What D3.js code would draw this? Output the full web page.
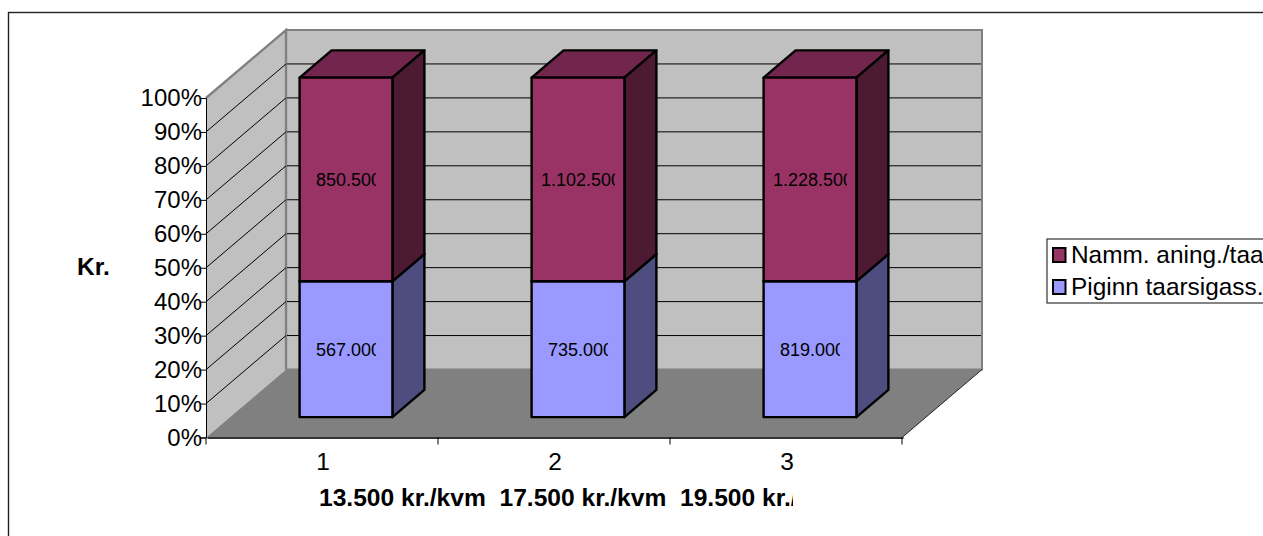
<!DOCTYPE html>
<html>
<head>
<meta charset="utf-8">
<script src="https://cdn.jsdelivr.net/npm/d3@7"></script>
<style>
  html, body { margin: 0; padding: 0; background: #fff; overflow: hidden; }
  text { font-family: "Liberation Sans", Arial, sans-serif; fill: #000; white-space: pre; }
</style>
</head>
<body>
<svg id="chart" width="1263" height="536"></svg>
<script>
const categories = ["1", "2", "3"];
const seriesNames = ["Piginn taarsigass.", "Namm. aning./taa"];
const piginn = [567000, 735000, 819000];
const namm = [850500, 1102500, 1228500];
const labelsPiginn = ["567.000", "735.000", "819.000"];
const labelsNamm = ["850.500", "1.102.500", "1.228.500"];
const yTicks = [0, .1, .2, .3, .4, .5, .6, .7, .8, .9, 1];
const xTitle = "13.500 kr./kvm  17.500 kr./kvm  19.500 kr./kvm";
const yTitle = "Kr.";

const svg = d3.select("#chart");
const defs = svg.append("defs");

// front plane of the box, plus how far the depth axis pushes things
const depthX = 80, depthY = 68;
const x = d3.scaleBand().domain(categories).range([206, 902]).paddingInner(0.6).paddingOuter(0.3);
const xEdge = d3.scaleBand().domain(categories).range([206, 902]);
const y = d3.scaleLinear().domain([0, 1]).range([437.5, 98]);
// z: 0 = front, 1 = back wall. bars sit in the middle 40%
const zFront = 0.3, zBack = 0.7;

const px = (a, z) => a + z * depthX;
const py = (v, z) => y(v) - z * depthY;
const poly = pts => "M" + pts.map(p => p.join(",")).join("L") + "Z";

const rows = categories.map((c, i) => ({cat: c, a: piginn[i], b: namm[i], la: labelsPiginn[i], lb: labelsNamm[i]}));
const stacked = d3.stack().keys(["a", "b"]).offset(d3.stackOffsetExpand)(rows);

const colors = {
  a: {front: "#9999ff", top: "#7373bf", side: "#4d4d80"},
  b: {front: "#993366", top: "#73264d", side: "#4d1a33"}
};

// outer frame, runs off the picture on the right and at the bottom
svg.append("rect").attr("x", 8.5).attr("y", 12.5).attr("width", 1400).attr("height", 700)
  .attr("fill", "#fff").attr("stroke", "#222").attr("stroke-width", 1.4);

// walls and floor
const wall = "#c0c0c0", edge = "#808080";
svg.append("path")
  .attr("d", poly([[px(206, 1), py(1, 1)], [px(902, 1), py(1, 1)], [px(902, 1), py(0, 1)], [px(206, 1), py(0, 1)]]))
  .attr("fill", wall).attr("stroke", edge).attr("stroke-width", 2);
svg.append("path")
  .attr("d", poly([[px(206, 0), py(1, 0)], [px(206, 1), py(1, 1)], [px(206, 1), py(0, 1)], [px(206, 0), py(0, 0)]]))
  .attr("fill", wall);
svg.append("path")
  .attr("d", `M${px(206, 0)},${py(1, 0)}L${px(206, 1)},${py(1, 1)}L${px(206, 1)},${py(0, 1)}`)
  .attr("stroke", edge).attr("stroke-width", 2.4).attr("fill", "none");
svg.append("path")
  .attr("d", poly([[px(206, 0), py(0, 0)], [px(902, 0), py(0, 0)], [px(902, 1), py(0, 1)], [px(206, 1), py(0, 1)]]))
  .attr("fill", edge);

// gridlines: along the left wall, then across the back wall
const grid = svg.append("g").attr("fill", "none").attr("stroke", "#000").attr("stroke-width", 1);
const inner = yTicks.slice(1, -1);
grid.selectAll(".side").data(inner).join("path")
  .attr("class", "side")
  .attr("d", d => `M${px(206, 0)},${py(d, 0)}L${px(206, 1)},${py(d, 1)}`);
grid.selectAll(".back").data(inner).join("path")
  .attr("class", "back")
  .attr("d", d => `M${px(206, 1) + 1},${py(d, 1)}L${px(902, 1) - 1},${py(d, 1)}`);

// floor right edge
svg.append("path")
  .attr("d", `M${px(902, 0)},${py(0, 0)}L${px(902, 1)},${py(0, 1)}`)
  .attr("stroke", "#222").attr("stroke-width", 1).attr("fill", "none");

// bars, lower segment first so the upper one sits on top
const bars = svg.append("g").attr("stroke", "#000").attr("stroke-width", 2.4).attr("stroke-linejoin", "round");
stacked.forEach(s => {
  const c = colors[s.key];
  s.forEach(d => {
    const x0 = x(d.data.cat), x1 = x0 + x.bandwidth();
    const lo = d[0], hi = d[1];
    bars.append("path").attr("fill", c.top)
      .attr("d", poly([[px(x0, zFront), py(hi, zFront)], [px(x1, zFront), py(hi, zFront)], [px(x1, zBack), py(hi, zBack)], [px(x0, zBack), py(hi, zBack)]]));
    bars.append("path").attr("fill", c.side)
      .attr("d", poly([[px(x1, zFront), py(lo, zFront)], [px(x1, zBack), py(lo, zBack)], [px(x1, zBack), py(hi, zBack)], [px(x1, zFront), py(hi, zFront)]]));
    bars.append("path").attr("fill", c.front)
      .attr("d", poly([[px(x0, zFront), py(lo, zFront)], [px(x1, zFront), py(lo, zFront)], [px(x1, zFront), py(hi, zFront)], [px(x0, zFront), py(hi, zFront)]]));
  });
});

// data labels, cut off on the right like the original
const labelGroup = svg.append("g").attr("font-size", 18);
let clipId = 0;
stacked.forEach(s => {
  s.forEach(d => {
    const cx = px(x(d.data.cat) + x.bandwidth() / 2, zFront);
    const cy = py((d[0] + d[1]) / 2, zFront);
    const t = labelGroup.append("text")
      .attr("y", cy).attr("dy", "0.35em")
      .text(s.key === "a" ? d.data.la : d.data.lb);
    const w = t.node().getComputedTextLength() * 0.925;
    const id = "lab" + (clipId++);
    defs.append("clipPath").attr("id", id).append("rect")
      .attr("x", cx - w / 2).attr("y", cy - 20).attr("width", w).attr("height", 40);
    t.attr("x", cx - w / 2).attr("clip-path", `url(#${id})`);
  });
});

// y axis on the front left corner
const yAxis = svg.append("g").attr("transform", "translate(206,0)")
  .call(d3.axisLeft(y).tickValues(yTicks).tickFormat(d3.format(".0%")).tickSize(6).tickPadding(-2));
yAxis.selectAll("text").attr("font-size", 24).attr("font-family", null);
yAxis.selectAll("line").attr("stroke", "#000");
yAxis.select(".domain").attr("stroke", "#000").attr("stroke-width", 1);

// x axis: labels mid-band, ticks on the band edges
const xAxis = svg.append("g").attr("transform", `translate(1,${y(0)})`)
  .call(d3.axisBottom(xEdge).tickSize(0).tickPadding(15.5));
xAxis.selectAll("text").attr("font-size", 24.5).attr("font-family", null);
xAxis.select(".domain").attr("stroke", "#333").attr("stroke-width", 2);
svg.append("g").selectAll("line")
  .data(categories.map(c => xEdge(c)).concat([xEdge.range()[1]]))
  .join("line")
  .attr("x1", d => d).attr("x2", d => d)
  .attr("y1", y(0)).attr("y2", y(0) + 7)
  .attr("stroke", "#000");

// axis titles
defs.append("clipPath").attr("id", "titleClip").append("rect")
  .attr("x", 300).attr("y", 470).attr("width", 493).attr("height", 50);
svg.append("text").attr("x", 319).attr("y", 506)
  .attr("font-size", 24.6).attr("font-weight", "bold")
  .attr("clip-path", "url(#titleClip)").text(xTitle);
svg.append("text").attr("x", 77).attr("y", 275)
  .attr("font-size", 24.6).attr("font-weight", "bold").text(yTitle);

// legend, runs off the right side
svg.append("rect").attr("x", 1047).attr("y", 239).attr("width", 300).attr("height", 64)
  .attr("fill", "#fff").attr("stroke", "#333").attr("stroke-width", 1.2);
const legendKeys = ["b", "a"];
const legendNames = seriesNames.slice().reverse();
const legendY = d3.scalePoint().domain(legendNames).range([255, 287]);
const legendRows = svg.append("g").selectAll("g").data(legendNames).join("g")
  .attr("transform", d => `translate(0,${legendY(d)})`);
legendRows.append("rect")
  .attr("x", 1053).attr("y", -7).attr("width", 12.5).attr("height", 14)
  .attr("fill", (d, i) => colors[legendKeys[i]].front)
  .attr("stroke", "#000").attr("stroke-width", 2);
legendRows.append("text").attr("x", 1071).attr("y", 8)
  .attr("font-size", 24.4).text(d => d);
</script>
</body>
</html>
